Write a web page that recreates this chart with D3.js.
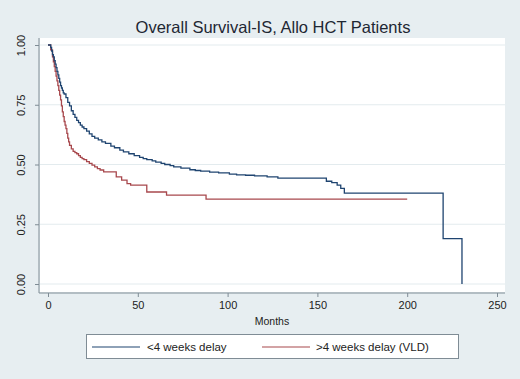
<!DOCTYPE html>
<html>
<head>
<meta charset="utf-8">
<script src="https://cdn.jsdelivr.net/npm/d3@7"></script>
<style>
  html, body { margin: 0; padding: 0; background: #e7eef1; }
  svg { display: block; font-family: "Liberation Sans", Arial, Helvetica, sans-serif; }
</style>
</head>
<body>
<svg id="chart" width="520" height="379"></svg>
<script>
const title = "Overall Survival-IS, Allo HCT Patients";
const xLabel = "Months";
const seriesNames = ["<4 weeks delay", ">4 weeks delay (VLD)"];
const xTicks = [0, 50, 100, 150, 200, 250];
const yTicks = [0, 0.25, 0.5, 0.75, 1];

const blueMonths = [0, 1.5, 2, 2.5, 3, 3.5, 4, 4.5, 5, 5.5, 6, 6.5, 7, 7.5, 8, 8.5, 9, 10, 11, 12, 13, 14, 15, 16, 17, 18, 19, 20, 21.5, 23, 24.5, 26, 28, 30, 32, 35, 37, 40, 42, 45, 48, 51, 53, 55, 58, 60, 63, 65, 68, 70, 74, 79, 82, 85, 90, 95, 101, 105, 110, 115, 122, 128, 155, 158, 161, 163, 165, 220, 230.5];
const blueSurv   = [1.0, 0.99, 0.975, 0.96, 0.95, 0.935, 0.92, 0.905, 0.89, 0.875, 0.86, 0.845, 0.83, 0.82, 0.81, 0.80, 0.795, 0.78, 0.76, 0.745, 0.725, 0.71, 0.697, 0.685, 0.675, 0.665, 0.657, 0.65, 0.64, 0.628, 0.618, 0.61, 0.603, 0.595, 0.588, 0.577, 0.57, 0.56, 0.553, 0.545, 0.537, 0.53, 0.525, 0.52, 0.515, 0.51, 0.505, 0.50, 0.495, 0.49, 0.485, 0.478, 0.475, 0.472, 0.468, 0.465, 0.46, 0.457, 0.455, 0.452, 0.448, 0.443, 0.43, 0.424, 0.414, 0.40, 0.38, 0.19, 0.0];

const redMonths = [0, 1.5, 2.5, 3, 3.5, 4, 4.5, 5, 5.5, 6, 6.5, 7, 7.5, 8, 8.5, 9, 9.5, 10, 10.5, 11, 11.5, 12, 13, 14, 15, 16, 17, 18, 19, 20, 21.5, 23, 24.5, 26, 27.5, 29, 31, 38, 41, 44, 46, 55, 66, 88, 200];
const redSurv   = [1.0, 0.98, 0.95, 0.93, 0.91, 0.89, 0.87, 0.85, 0.83, 0.81, 0.79, 0.77, 0.745, 0.72, 0.70, 0.68, 0.665, 0.65, 0.63, 0.61, 0.595, 0.58, 0.565, 0.555, 0.55, 0.545, 0.537, 0.53, 0.525, 0.52, 0.512, 0.505, 0.497, 0.49, 0.483, 0.477, 0.469, 0.448, 0.435, 0.42, 0.414, 0.385, 0.372, 0.355, 0.355];

const colors = ["#1f4470", "#a8484d"];

const svg = d3.select("#chart");
const plot = {left: 40, right: 505, top: 38, bottom: 292};

const x = d3.scaleLinear().domain([0, 250]).range([48, 497]);
const y = d3.scaleLinear().domain([0, 1]).range([284, 45]);

// plot region
svg.append("rect").attr("x", plot.left).attr("y", plot.top)
  .attr("width", plot.right - plot.left).attr("height", plot.bottom - plot.top)
  .attr("fill", "#ffffff");

// grid
svg.append("g").selectAll("line").data(yTicks).join("line")
  .attr("x1", plot.left).attr("x2", plot.right)
  .attr("y1", d => y(d)).attr("y2", d => y(d))
  .attr("stroke", "#e3ebee").attr("stroke-width", 1);

// title
svg.append("text").attr("x", 273).attr("y", 33).attr("text-anchor", "middle")
  .attr("font-size", 16.5).attr("fill", "#1e2733").text(title);

// y axis
const yAxis = svg.append("g").attr("transform", `translate(${plot.left - 1},0)`)
  .call(d3.axisLeft(y).tickValues(yTicks).tickSize(4).tickFormat(d3.format(".2f")));
yAxis.select(".domain").remove();
yAxis.selectAll(".tick line").attr("stroke", "#7f8c95");
yAxis.selectAll(".tick text")
  .attr("x", 0).attr("dy", 0).attr("text-anchor", "middle")
  .attr("transform", "translate(-14,0) rotate(-90)")
  .attr("font-size", 11).attr("fill", "#222");
svg.append("line").attr("x1", plot.left - 1).attr("x2", plot.left - 1)
  .attr("y1", plot.top).attr("y2", plot.bottom + 1).attr("stroke", "#7f8c95");

// x axis
const xAxis = svg.append("g").attr("transform", `translate(0,${plot.bottom + 1})`)
  .call(d3.axisBottom(x).tickValues(xTicks).tickSize(4).tickFormat(d3.format("d")));
xAxis.select(".domain").remove();
xAxis.selectAll(".tick line").attr("stroke", "#7f8c95");
xAxis.selectAll(".tick text").attr("y", 8).attr("font-size", 11).attr("fill", "#222");
svg.append("line").attr("x1", plot.left - 1).attr("x2", plot.right)
  .attr("y1", plot.bottom + 1).attr("y2", plot.bottom + 1).attr("stroke", "#7f8c95");

svg.append("text").attr("x", 272).attr("y", 325).attr("text-anchor", "middle")
  .attr("font-size", 10.5).attr("fill", "#222").text(xLabel);

// curves
const line = d3.line().x(d => x(d[0])).y(d => y(d[1])).curve(d3.curveStepAfter);
const blueData = blueMonths.map((m, i) => [m, blueSurv[i]]);
const redData = redMonths.map((m, i) => [m, redSurv[i]]);
svg.append("path").datum(redData).attr("d", line)
  .attr("fill", "none").attr("stroke", colors[1]).attr("stroke-width", 1.3);
svg.append("path").datum(blueData).attr("d", line)
  .attr("fill", "none").attr("stroke", colors[0]).attr("stroke-width", 1.3);

// legend
const leg = svg.append("g");
leg.append("rect").attr("x", 86.5).attr("y", 334.5).attr("width", 372).attr("height", 24)
  .attr("fill", "#ffffff").attr("stroke", "#7f8c95");
const legItems = [{x1: 92, x2: 140, tx: 147}, {x1: 262, x2: 310, tx: 316}];
legItems.forEach((it, i) => {
  leg.append("line").attr("x1", it.x1).attr("x2", it.x2).attr("y1", 347).attr("y2", 347)
    .attr("stroke", colors[i]).attr("stroke-width", 1.2);
  leg.append("text").attr("x", it.tx).attr("y", 351).attr("font-size", 11.5)
    .attr("fill", "#222").text(seriesNames[i]);
});
</script>
</body>
</html>
